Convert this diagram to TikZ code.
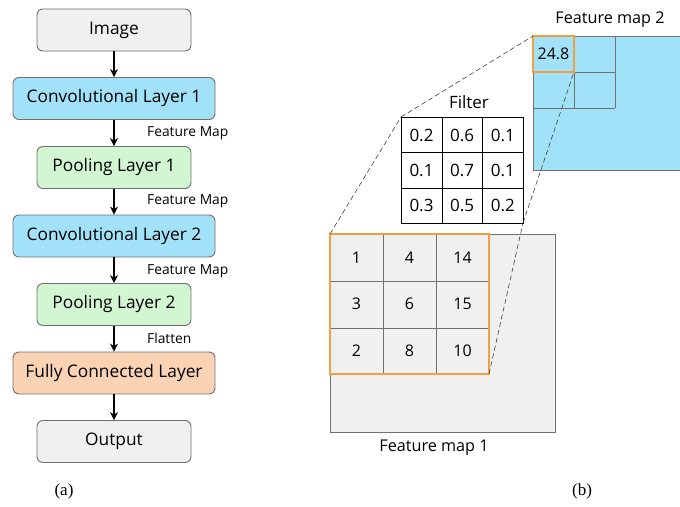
\documentclass[tikz,border=0pt]{standalone}
\usepackage{fontspec}
\setmainfont{Open Sans}
\newfontfamily\capfont{Liberation Serif}
\usetikzlibrary{arrows.meta}
\definecolor{gfill}{HTML}{F0F0F0}
\definecolor{gdraw}{HTML}{707070}
\definecolor{bfill}{HTML}{A2E2F8}
\definecolor{grfill}{HTML}{D2F5D2}
\definecolor{ofill}{HTML}{FAD2B4}
\definecolor{hl}{HTML}{F0A040}
\tikzset{
  x=1pt, y=-1pt,
  blk/.style={draw=gdraw, line width=0.9pt, rounded corners=6pt, minimum height=42pt, inner sep=0pt, font=\fontsize{17.3}{19}\selectfont},
  narrowbox/.style={blk, minimum width=154pt},
  widebox/.style={blk, minimum width=202pt},
  arr/.style={line width=1.2pt, -{Stealth[length=8pt,width=8pt]}},
  lab/.style={font=\fontsize{13.8}{15}\selectfont, anchor=west, inner sep=0pt},
  cellv/.style={font=\fontsize{16}{18}\selectfont, inner sep=0pt},
  fcell/.style={font=\fontsize{17}{19}\selectfont, inner sep=0pt},
  dsh/.style={dashed, dash pattern=on 5pt off 3pt, line width=0.6pt, draw=black!75},
  grd/.style={draw=gdraw, line width=0.9pt},
  ttl/.style={font=\fontsize{16.2}{18}\selectfont, inner sep=0pt},
  captxt/.style={font=\capfont\fontsize{17}{19}\selectfont, inner sep=0pt}
}
\begin{document}
\begin{tikzpicture}
\useasboundingbox (0,0) rectangle (680,506);
% left flow
\node[narrowbox, fill=gfill] (img) at (114,30) {Image};
\node[widebox, fill=bfill] (c1) at (114,98.5) {Convolutional Layer 1};
\node[narrowbox, fill=grfill] (p1) at (114,167.5) {Pooling Layer 1};
\node[widebox, fill=bfill] (c2) at (114,236) {Convolutional Layer 2};
\node[narrowbox, fill=grfill] (p2) at (114,304.5) {Pooling Layer 2};
\node[widebox, fill=ofill] (fc) at (114,373) {Fully Connected Layer};
\node[narrowbox, fill=gfill] (out) at (114,441.5) {Output};
\draw[arr] (img) -- (c1);
\draw[arr] (c1) -- (p1);
\draw[arr] (p1) -- (c2);
\draw[arr] (c2) -- (p2);
\draw[arr] (p2) -- (fc);
\draw[arr] (fc) -- (out);
\node[lab] (l1) at (147,133) {Feature Map};
\node[lab] (l2) at (147,201) {Feature Map};
\node[lab] (l3) at (147,271) {Feature Map};
\node[lab] (l4) at (147,338) {Flatten};
\node[captxt] (ca) at (64,491) {(a)};
\node[captxt] (cb) at (582,491) {(b)};
% Feature map 2
\fill[bfill] (533,36) rectangle (690,170);
\draw[grd] (690,36) -- (533,36) -- (533,170) -- (690,170);
\draw[grd] (533,72) -- (615,72);
\draw[grd] (533,108) -- (615,108);
\draw[grd] (574,36) -- (574,108);
\draw[grd] (615,36) -- (615,108);
\node[cellv] (v248) at (553.5,54) {24.8};
\draw[hl, line width=2.6pt] (533,36) rectangle (574,72);
\node[ttl] (fm2) at (610,20) {Feature map 2};
\coordinate (fm2tl) at (533,36);
\coordinate (fm2br) at (574,72);
% Filter
\node[ttl, font=\fontsize{17}{19}\selectfont] (flt) at (469,102) {Filter};
\draw[line width=0.9pt, fill=white] (401,117) rectangle (523,223);
\draw[line width=0.9pt] (442,117) -- (442,223) (482,117) -- (482,223)
  (401,152.5) -- (523,152.5) (401,188) -- (523,188);
\foreach \v [count=\i from 0] in {0.2,0.6,0.1,0.1,0.7,0.1,0.3,0.5,0.2}{
  \pgfmathtruncatemacro\cx{mod(\i,3)}
  \pgfmathtruncatemacro\cy{div(\i,3)}
  \node[fcell] (f\i) at ({421.5+40.7*\cx},{135+35.3*\cy}) {\v};
}
\coordinate (ftl) at (401,117);
\coordinate (fbr) at (523,223);
% Feature map 1
\draw[grd, fill=gfill] (330,234) rectangle (555,432);
\draw[grd] (383,234) -- (383,374) (436,234) -- (436,374)
  (330,281) -- (489,281) (330,328) -- (489,328);
\foreach \v [count=\i from 0] in {1,4,14,3,6,15,2,8,10}{
  \pgfmathtruncatemacro\cx{mod(\i,3)}
  \pgfmathtruncatemacro\cy{div(\i,3)}
  \node[cellv] (m\i) at ({356.5+53*\cx},{257.5+46.7*\cy}) {\v};
}
\draw[hl, line width=2pt] (330,234) rectangle (489,374);
\node[ttl] (fm1) at (434,448) {Feature map 1};
\coordinate (mtl) at (330,234);
\coordinate (mbr) at (489,374);
% dashed projection lines
\draw[dsh] (mtl) -- (ftl);
\draw[dsh] (ftl) -- (fm2tl);
\draw[dsh] (mbr) -- (fbr);
\draw[dsh] (fbr) -- (fm2br);
\end{tikzpicture}
\end{document}
